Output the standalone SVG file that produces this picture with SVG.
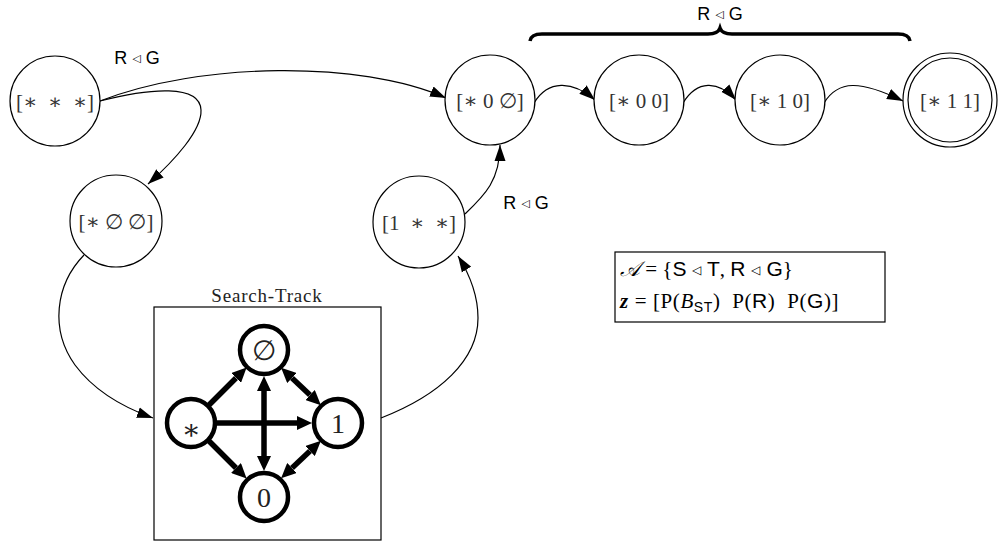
<svg xmlns="http://www.w3.org/2000/svg" width="1002" height="544" viewBox="0 0 1002 544">
<style>
.n{fill:#fff;stroke:#000;stroke-width:1.2}
.t{font-family:"Liberation Serif","DejaVu Serif",serif;font-size:21px;fill:#333;text-anchor:middle;dominant-baseline:central}
.lab{font-family:"Liberation Sans","DejaVu Sans",sans-serif;font-size:18px;fill:#000;text-anchor:middle}
.tri{font-size:11px}
.c{fill:none;stroke:#000;stroke-width:1.2}
.k{fill:none;stroke:#000;stroke-width:5.5}
.in{fill:#fff;stroke:#000;stroke-width:4.5}
.it{font-family:"Liberation Serif","DejaVu Serif",serif;font-size:28px;fill:#222;text-anchor:middle;dominant-baseline:central}
.leg{font-family:"Liberation Serif","DejaVu Serif",serif;font-size:21px;fill:#000}
.sf{font-family:"Liberation Sans","DejaVu Sans",sans-serif}
</style>
<defs>
<marker id="a" markerUnits="userSpaceOnUse" markerWidth="17" markerHeight="12" viewBox="0 -6 17 12" refX="16" refY="0" orient="auto">
<path d="M0,-5.5 L16,0 L0,5.5 z" fill="#000"/>
</marker>
<marker id="b" markerUnits="userSpaceOnUse" markerWidth="16" markerHeight="14" viewBox="0 -7 16 14" refX="0" refY="0" orient="auto-start-reverse">
<path d="M0,-7 L15,0 L0,7 z" fill="#000"/>
</marker>
</defs>

<g id="connectors">
<path class="c" d="M100,101 C200,62 360,60 446,98" marker-end="url(#a)"/>
<path class="c" d="M100,101 C150,88 200,84 201,110 C202,130 175,160 148,184" marker-end="url(#a)"/>
<path class="c" d="M84,255 C55,285 50,330 75,365 C95,392 125,408 153,418" marker-end="url(#a)"/>
<path class="c" d="M381,418 C440,395 478,360 478,318 C478,295 470,275 458,256" marker-end="url(#a)"/>
<path class="c" d="M465,214 C485,195 500,180 500,145" marker-end="url(#a)"/>
<path class="c" d="M534,103 C548,80 572,80 595,100" marker-end="url(#a)"/>
<path class="c" d="M683,103 C697,80 718,80 736,100" marker-end="url(#a)"/>
<path class="c" d="M824,103 C838,80 860,80 903,101" marker-end="url(#a)"/>
</g>

<text class="lab" x="137" y="64">R <tspan class="tri" dy="-2">◁</tspan><tspan dy="2"> G</tspan></text>
<text class="lab" x="526" y="209">R <tspan class="tri" dy="-2">◁</tspan><tspan dy="2"> G</tspan></text>
<text class="lab" x="720" y="20">R <tspan class="tri" dy="-2">◁</tspan><tspan dy="2"> G</tspan></text>
<path d="M530,41 Q531,34 542,34 L708,34 Q718,34 720,28 Q722,34 732,34 L898,34 Q909,34 910,41" fill="none" stroke="#000" stroke-width="3.5"/>

<g id="n-sss"><circle class="n" cx="55" cy="101" r="45"/><text class="t" x="55" y="102" xml:space="preserve">[∗  ∗  ∗]</text></g>
<g id="n-s00e"><circle class="n" cx="116" cy="221" r="46"/><text class="t" x="116" y="222">[∗ ∅ ∅]</text></g>
<g id="n-1ss"><circle class="n" cx="419" cy="222" r="46"/><text class="t" x="419" y="223" xml:space="preserve">[1  ∗  ∗]</text></g>
<g id="n-s0e"><circle class="n" cx="490" cy="100" r="45"/><text class="t" x="490" y="101">[∗ 0 ∅]</text></g>
<g id="n-s00"><circle class="n" cx="639" cy="100" r="45"/><text class="t" x="639" y="101">[∗ 0 0]</text></g>
<g id="n-s10"><circle class="n" cx="780" cy="100" r="45"/><text class="t" x="780" y="101">[∗ 1 0]</text></g>
<g id="n-s11"><circle class="n" cx="950" cy="100" r="47"/><circle class="n" cx="950" cy="100" r="42"/><text class="t" x="950" y="101">[∗ 1 1]</text></g>

<g id="search-track">
<rect x="154" y="307" width="227" height="233" fill="none" stroke="#000" stroke-width="1.2"/>
<text x="267" y="302" font-family="Liberation Serif, DejaVu Serif, serif" font-size="19" letter-spacing="0.8" text-anchor="middle" fill="#222">Search-Track</text>
<g id="st-edges">
<line class="k" x1="209" y1="405" x2="236" y2="378" marker-end="url(#b)"/>
<line class="k" x1="217" y1="423" x2="297" y2="423" marker-end="url(#b)"/>
<line class="k" x1="209" y1="441" x2="236" y2="468" marker-end="url(#b)"/>
<line class="k" x1="264" y1="391" x2="264" y2="456" marker-start="url(#b)" marker-end="url(#b)"/>
<line class="k" x1="292" y1="378" x2="310" y2="395" marker-start="url(#b)" marker-end="url(#b)"/>
<line class="k" x1="310" y1="451" x2="292" y2="468" marker-start="url(#b)" marker-end="url(#b)"/>
</g>
<g id="st-empty"><circle class="in" cx="264" cy="350" r="24"/><text class="it" x="264" y="350">∅</text></g>
<g id="st-star"><circle class="in" cx="191" cy="423" r="24"/><text class="it" x="191" y="429">∗</text></g>
<g id="st-one"><circle class="in" cx="338" cy="423" r="24"/><text class="it" x="338" y="423">1</text></g>
<g id="st-zero"><circle class="in" cx="264" cy="497" r="24"/><text class="it" x="264" y="497">0</text></g>
</g>

<g id="legend">
<rect x="615" y="252" width="270" height="70" fill="#fff" stroke="#000" stroke-width="1.2"/>
<text class="leg" x="620" y="276" xml:space="preserve"><tspan font-style="italic">𝒜</tspan> = {<tspan class="sf">S <tspan font-size="12" dy="-2">◁</tspan><tspan dy="2"> T</tspan></tspan>, <tspan class="sf">R <tspan font-size="12" dy="-2">◁</tspan><tspan dy="2"> G</tspan></tspan>}</text>
<text class="leg" x="620" y="308" letter-spacing="0.6" xml:space="preserve"><tspan font-weight="bold" font-style="italic">z</tspan> = [P(<tspan font-style="italic">B</tspan><tspan class="sf" font-size="14" dy="4">ST</tspan><tspan dy="-4">)  P(</tspan><tspan class="sf">R</tspan>)  P(<tspan class="sf">G</tspan>)]</text>
</g>
</svg>
